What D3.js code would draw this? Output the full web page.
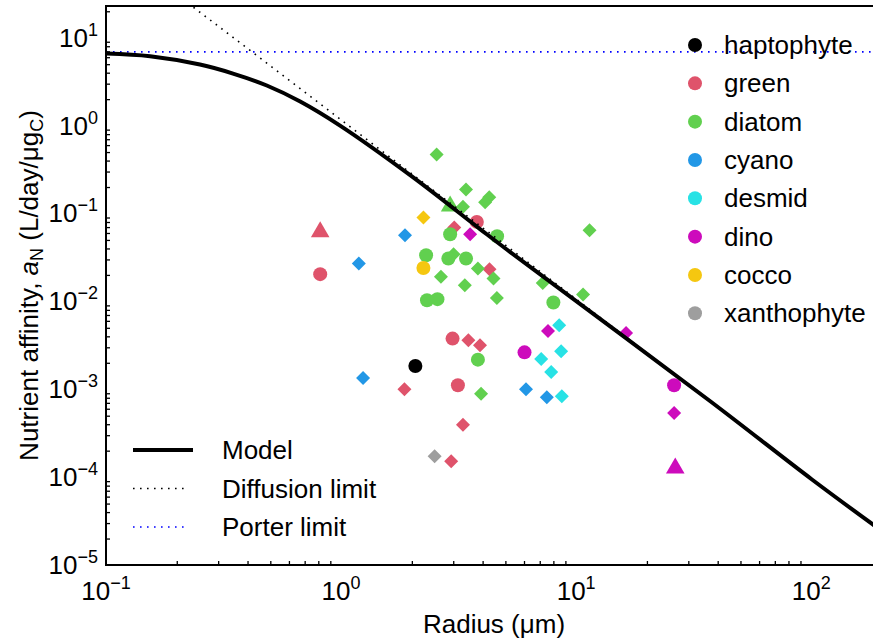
<!DOCTYPE html>
<html>
<head>
<meta charset="utf-8">
<script src="https://cdn.jsdelivr.net/npm/d3@7"></script>
<style>
  body { margin: 0; background: #fff; }
  svg { display: block; font-family: "Liberation Sans", Arial, sans-serif; }
</style>
</head>
<body>
<div id="chart"></div>
<script>
// groups and their legend order
const groupNames = ['haptophyte', 'green', 'diatom', 'cyano', 'desmid', 'dino', 'cocco', 'xanthophyte'];
const groupColors = ['#000000', '#DF536B', '#61D04F', '#2297E6', '#28E2E5', '#CD0BBC', '#F5C710', '#9E9E9E'];

// observations: [marker, radius (um), affinity (L/day/ugC)]
const haptophyte = [['circle', 2.07, 1.84e-3]];
const green = [
    ['triangle', 0.815, 0.0662], ['circle', 0.815, 0.0204], ['circle', 3.78, 0.0802],
    ['diamond', 3.03, 0.0693], ['diamond', 4.28, 0.0232], ['circle', 2.98, 3.77e-3],
    ['diamond', 3.48, 3.6e-3], ['diamond', 3.90, 3.16e-3], ['circle', 3.14, 1.11e-3],
    ['diamond', 1.86, 1.0e-3], ['diamond', 3.30, 3.95e-4], ['diamond', 2.94, 1.52e-4]
];
const diatom = [
    ['diamond', 2.55, 0.47], ['triangle', 2.91, 0.130], ['diamond', 3.30, 0.119],
    ['diamond', 3.40, 0.188], ['diamond', 4.27, 0.153], ['diamond', 4.10, 0.134],
    ['circle', 4.61, 0.0551], ['diamond', 11.4, 0.0645], ['circle', 2.91, 0.058],
    ['circle', 2.30, 0.0335], ['diamond', 3.01, 0.0344], ['circle', 2.86, 0.0307],
    ['circle', 3.40, 0.0307], ['diamond', 2.66, 0.019], ['diamond', 3.36, 0.0153],
    ['diamond', 3.82, 0.0236], ['circle', 2.32, 0.0103], ['circle', 2.57, 0.0106],
    ['diamond', 4.45, 0.0182], ['diamond', 4.60, 0.0109], ['diamond', 7.21, 0.0162],
    ['diamond', 10.7, 0.012], ['circle', 8.0, 9.7e-3], ['circle', 3.82, 2.17e-3],
    ['diamond', 3.94, 8.9e-4]
];
const cyano = [
    ['diamond', 1.19, 0.0269], ['diamond', 1.87, 0.0566], ['diamond', 1.24, 1.34e-3],
    ['diamond', 6.12, 1.0e-3], ['diamond', 7.50, 8.1e-4]
];
const desmid = [
    ['diamond', 8.47, 5.35e-3], ['diamond', 8.63, 2.7e-3], ['diamond', 7.10, 2.21e-3],
    ['diamond', 7.83, 1.57e-3], ['diamond', 8.69, 8.3e-4]
];
const dino = [
    ['diamond', 3.54, 0.058], ['diamond', 7.59, 4.6e-3], ['circle', 6.03, 2.63e-3],
    ['diamond', 16.3, 4.37e-3], ['circle', 26.1, 1.11e-3], ['diamond', 26.1, 5.36e-4],
    ['triangle', 26.4, 1.36e-4]
];
const cocco = [['diamond', 2.24, 0.09], ['circle', 2.24, 0.024]];
const xanthophyte = [['diamond', 2.50, 1.73e-4]];
const groupData = [haptophyte, green, diatom, cyano, desmid, dino, cocco, xanthophyte];

// model curve
const modelR = [0.1, 0.154, 0.251, 0.347, 0.483, 0.670, 0.99, 2.0, 3.90, 5.07, 37.2, 100.7, 200];
const modelA = [6.61, 6.16, 4.95, 3.91, 2.86, 1.88, 1.0, 0.264, 0.0665, 0.0389, 7.3e-4, 9.4e-5, 2.43e-5];
// limits
const diffusionR = [0.2, 200];
const diffusionA = [31, 2.35e-5];
const porterR = [0.1, 200];
const porterA = [6.9, 6.9];

const xExps = [-1, 0, 1, 2];
const yExps = [-5, -4, -3, -2, -1, 0, 1];
const lineLegend = ['Model', 'Diffusion limit', 'Porter limit'];

const W = 873, H = 641;
const mLeft = 106, mRight = 882, mTop = 6, mBottom = 565;

const svg = d3.select('#chart').append('svg')
    .attr('width', W)
    .attr('height', H);

const x = d3.scaleLog().domain([0.1, 200]).range([mLeft, mRight]);
const y = d3.scaleLog().domain([1e-5, Math.pow(10, 1.361)]).range([mBottom, mTop]);

svg.append('clipPath').attr('id', 'plotclip')
    .append('rect')
    .attr('x', mLeft).attr('y', mTop)
    .attr('width', mRight - mLeft).attr('height', mBottom - mTop);

const plot = svg.append('g').attr('clip-path', 'url(#plotclip)');

// scatter points
const symbols = {
    circle: 'M7,0A7,7 0 1,1 -7,0A7,7 0 1,1 7,0Z',
    diamond: 'M0,-7L7,0L0,7L-7,0Z',
    triangle: 'M0,-8L9.3,8L-9.3,8Z'
};
groupData.forEach((rows, gi)=>{
    plot.selectAll('.pt' + gi).data(rows).enter()
        .append('path')
        .attr('class', 'pt' + gi)
        .attr('d', d=>symbols[d[0]])
        .attr('transform', d=>'translate(' + x(d[1]) + ',' + y(d[2]) + ')')
        .attr('fill', groupColors[gi]);
});

const line = d3.line().x(d=>x(d[0])).y(d=>y(d[1]));

// porter limit
plot.append('path')
    .attr('d', line(porterR.map((r, i)=>[r, porterA[i]])))
    .attr('fill', 'none')
    .attr('stroke', '#0000ff')
    .attr('stroke-width', 1.6)
    .attr('stroke-dasharray', '1.6,5.4');

// diffusion limit
plot.append('path')
    .attr('d', line(diffusionR.map((r, i)=>[r, diffusionA[i]])))
    .attr('fill', 'none')
    .attr('stroke', '#000')
    .attr('stroke-width', 1.6)
    .attr('stroke-dasharray', '1.6,5.4');

// model
plot.append('path')
    .attr('d', line.curve(d3.curveCatmullRom.alpha(0.5))(modelR.map((r, i)=>[r, modelA[i]])))
    .attr('fill', 'none')
    .attr('stroke', '#000')
    .attr('stroke-width', 4);

// minor ticks
const minorX = [], minorY = [];
for(let e = -1; e <= 2; e++){
    for(let m = 2; m <= 9; m++){
        let v = m * Math.pow(10, e);
        if(v < 200) minorX.push(v);
    }
}
for(let e = -5; e <= 1; e++){
    for(let m = 2; m <= 9; m++){
        let v = m * Math.pow(10, e);
        if(v < y.domain()[1]) minorY.push(v);
    }
}

const xAxis = svg.append('g')
    .attr('transform', 'translate(0,' + mBottom + ')')
    .call(d3.axisBottom(x).tickValues(minorX).tickSizeInner(-4).tickSizeOuter(0).tickFormat(''));
const yAxis = svg.append('g')
    .attr('transform', 'translate(' + mLeft + ',0)')
    .call(d3.axisLeft(y).tickValues(minorY).tickSizeInner(-4).tickSizeOuter(0).tickFormat(''));
[xAxis, yAxis].forEach(g=>{
    g.select('.domain').remove();
    g.selectAll('line').attr('stroke', '#000').attr('stroke-width', 1.3);
});

// frame
svg.append('rect')
    .attr('x', mLeft).attr('y', mTop)
    .attr('width', mRight - mLeft).attr('height', mBottom - mTop)
    .attr('fill', 'none')
    .attr('stroke', '#000')
    .attr('stroke-width', 2);

// tick labels with exponents
function powLabel(sel, e){
    sel.append('tspan').text('10');
    sel.append('tspan')
        .attr('dy', -11)
        .attr('font-size', 18)
        .text(e < 0 ? '\u2212' + (-e) : '' + e);
}
xExps.forEach(e=>{
    let t = svg.append('text')
        .attr('x', x(Math.pow(10, e)))
        .attr('y', 600)
        .attr('text-anchor', 'middle')
        .attr('font-size', 26);
    powLabel(t, e);
});
yExps.forEach(e=>{
    let t = svg.append('text')
        .attr('x', 98)
        .attr('y', y(Math.pow(10, e)) + 9)
        .attr('text-anchor', 'end')
        .attr('font-size', 26);
    powLabel(t, e);
});

// axis titles
svg.append('text')
    .attr('x', (mLeft + mRight) / 2)
    .attr('y', 633)
    .attr('text-anchor', 'middle')
    .attr('font-size', 26)
    .text('Radius (\u03bcm)');

const yl = svg.append('text')
    .attr('transform', 'translate(38,' + ((mTop + mBottom) / 2) + ') rotate(-90)')
    .attr('text-anchor', 'middle')
    .attr('font-size', 26);
yl.append('tspan').text('Nutrient affinity, ');
yl.append('tspan').attr('font-style', 'italic').text('a');
yl.append('tspan').attr('font-size', 18).attr('dy', 5).text('N');
yl.append('tspan').attr('dy', -5).text(' (L/day/\u03bcg');
yl.append('tspan').attr('font-size', 18).attr('dy', 5).text('C');
yl.append('tspan').attr('dy', -5).text(')');

// line legend, lower left
const lineStyles = [
    {w: 4, dash: null, color: '#000', x2: 193},
    {w: 1.6, dash: '1.6,5.4', color: '#000', x2: 188},
    {w: 1.6, dash: '1.6,5.4', color: '#0000ff', x2: 188}
];
lineLegend.forEach((name, i)=>{
    let ly = 450 + i * 38.5;
    svg.append('line')
        .attr('x1', 133).attr('x2', lineStyles[i].x2)
        .attr('y1', ly).attr('y2', ly)
        .attr('stroke', lineStyles[i].color)
        .attr('stroke-width', lineStyles[i].w)
        .attr('stroke-dasharray', lineStyles[i].dash);
    svg.append('text')
        .attr('x', 222).attr('y', ly + 9)
        .attr('font-size', 26)
        .text(name);
});

// group legend, upper right
groupNames.forEach((name, i)=>{
    let ly = 45 + i * 38.33;
    svg.append('circle')
        .attr('cx', 695).attr('cy', ly).attr('r', 7)
        .attr('fill', groupColors[i]);
    svg.append('text')
        .attr('x', 724).attr('y', ly + 9)
        .attr('font-size', 26)
        .text(name);
});
</script>
</body>
</html>
